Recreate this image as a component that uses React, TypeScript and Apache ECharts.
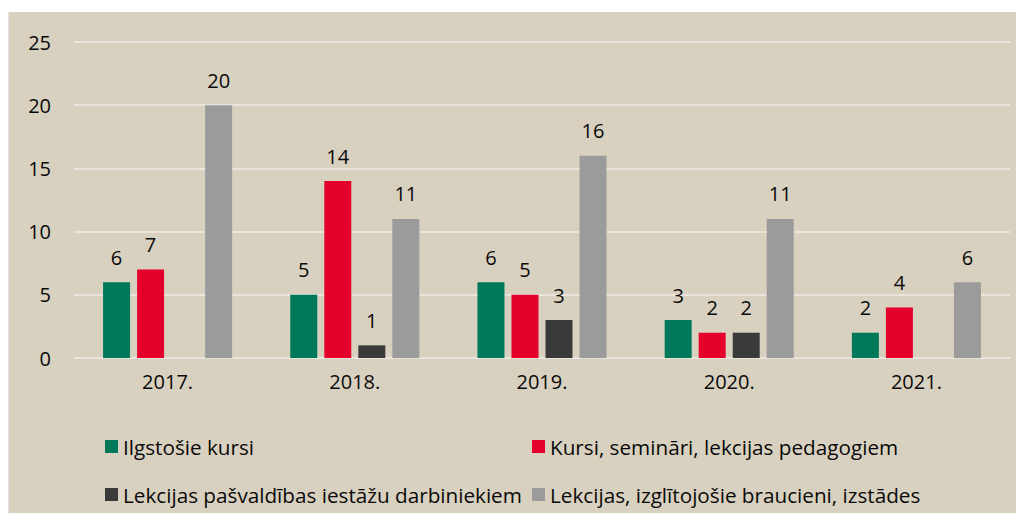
import React, { useEffect, useRef } from "react";
import * as echarts from "echarts";

const categories = ["2017.", "2018.", "2019.", "2020.", "2021."];
const seriesNames = [
  "Ilgstošie kursi",
  "Kursi, semināri, lekcijas pedagogiem",
  "Lekcijas pašvaldības iestāžu darbiniekiem",
  "Lekcijas, izglītojošie braucieni, izstādes",
];
const ilgstosie = [6, 5, 6, 3, 2];
const kursi = [7, 14, 5, 2, 4];
const pasvaldibas: (number | string)[] = ["-", 1, 3, 2, "-"];
const braucieni = [20, 11, 16, 11, 6];
const colors = ["#00795A", "#E4002B", "#3A3A3A", "#9B9B9B"];

export default function App() {
  const ref = useRef<HTMLDivElement>(null);
  useEffect(() => {
    if (!ref.current) return;
    const chart = echarts.init(ref.current, null, { renderer: "svg" });
    const font = "'Open Sans', 'Noto Sans', sans-serif";
    const datas = [ilgstosie, kursi, pasvaldibas, braucieni];
    const legendPos = [
      { left: 91, top: 419 },
      { left: 518, top: 419 },
      { left: 91, top: 467 },
      { left: 518, top: 467 },
    ];
    chart.setOption({
      animation: false,
      backgroundColor: "#D9D1C0",
      textStyle: { fontFamily: font },
      grid: { left: 65, right: 15, top: 30, bottom: 155 },
      legend: seriesNames.map((n, i) => ({
        data: [n],
        left: legendPos[i].left,
        top: legendPos[i].top,
        itemWidth: 13,
        itemHeight: 13,
        icon: "rect",
        textStyle: { fontSize: 20.7, color: "#0a0a0a", fontFamily: font, lineHeight: 20 },
      })),
      xAxis: {
        type: "category",
        data: categories,
        axisLine: { show: false },
        axisTick: { show: false },
        axisLabel: { fontSize: 20, color: "#0a0a0a", margin: 13 },
      },
      yAxis: {
        type: "value",
        min: 0,
        max: 25,
        interval: 5,
        axisLabel: { fontSize: 20, color: "#0a0a0a", margin: 23 },
        splitLine: { lineStyle: { color: "#E9E5DC", width: 2 } },
      },
      series: seriesNames.map((n, i) => ({
        name: n,
        type: "bar",
        data: datas[i],
        barWidth: 27,
        barGap: "26%",
        itemStyle: { color: colors[i] },
        label: {
          show: true,
          position: "top",
          distance: 15,
          fontSize: 20,
          color: "#0a0a0a",
        },
      })),
    });
    return () => chart.dispose();
  }, []);
  return (
    <div style={{ marginTop: 4, borderLeft: "1px solid #E4E4E4" }}>
      <div ref={ref} style={{ width: 1016, height: 501 }} />
    </div>
  );
}
